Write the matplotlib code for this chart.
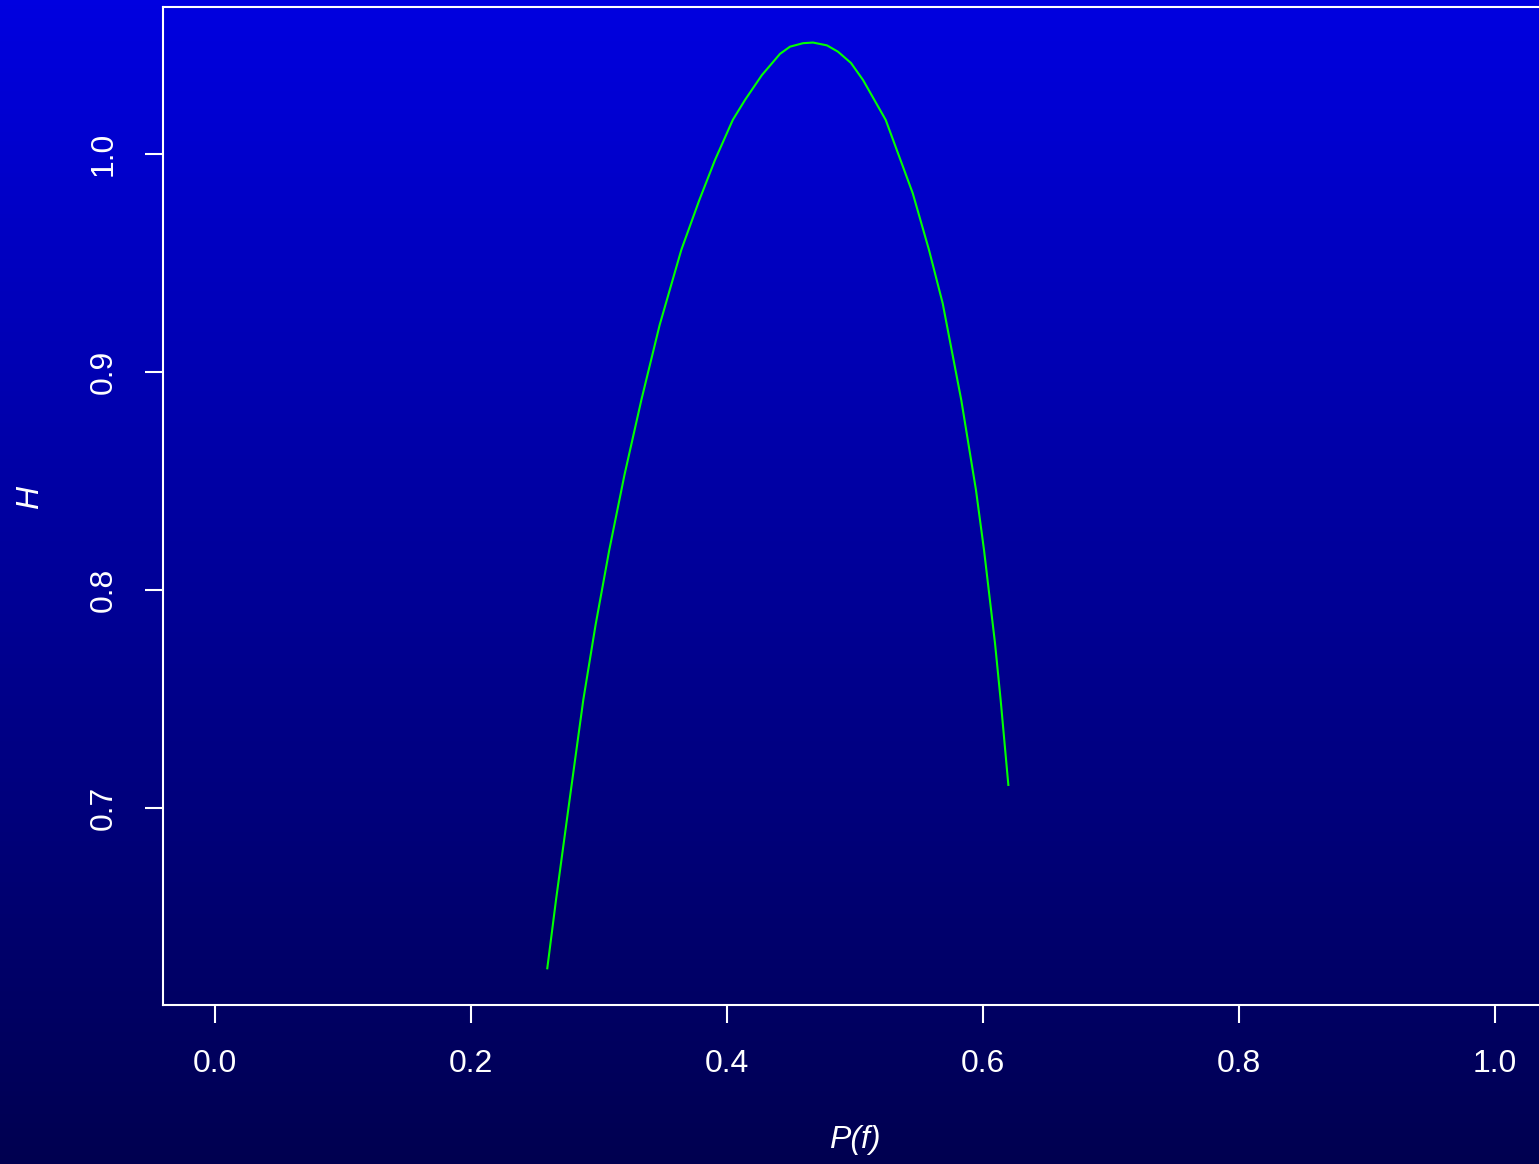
import numpy as np
import matplotlib
matplotlib.use("Agg")
import matplotlib.pyplot as plt

# values
pf = [0.2596, 0.2664, 0.2770, 0.2877, 0.2973, 0.3080, 0.3199, 0.3331, 0.3474,
      0.3643, 0.3784, 0.3906, 0.4045, 0.4141, 0.4273, 0.4414, 0.4492, 0.4594,
      0.4672, 0.4781, 0.4867, 0.4969, 0.5063, 0.5240, 0.5451, 0.5578, 0.5685,
      0.5830, 0.5945, 0.6008, 0.6094, 0.6138, 0.6198]
h = [0.6265, 0.6578, 0.7037, 0.7495, 0.7839, 0.8183, 0.8528, 0.8872, 0.9216,
     0.9560, 0.9789, 0.9972, 1.0156, 1.0248, 1.0362, 1.0459, 1.0492, 1.0508,
     1.0511, 1.0498, 1.0469, 1.0417, 1.0339, 1.0156, 0.9820, 0.9560, 0.9315,
     0.8872, 0.8459, 0.8183, 0.7755, 0.7495, 0.7106]
x_ticks = [0.0, 0.2, 0.4, 0.6, 0.8, 1.0]
y_ticks = [0.7, 0.8, 0.9, 1.0]

W, H = 1539, 1164
fig = plt.figure(figsize=(W / 100, H / 100), dpi=100)

# blue gradient background over the whole figure
bg = fig.add_axes([0, 0, 1, 1], zorder=-10)
grad = np.linspace(0, 1, 256).reshape(-1, 1)
top = np.array([0, 0, 224]) / 255
bottom = np.array([0, 0, 80]) / 255
img = top[None, None, :] * (1 - grad[:, :, None]) + bottom[None, None, :] * grad[:, :, None]
bg.imshow(img, aspect="auto", extent=[0, 1, 0, 1])
bg.axis("off")

font = "Liberation Sans"
left, right, ytop, ybot = 163, 1547, 7, 1004.5
ax = fig.add_axes([left / W, (H - ybot) / H, (right - left) / W, (ybot - ytop) / H])
ax.set_facecolor("none")
ax.plot(pf, h, color="#00ff00", lw=1.5)

ax.set_xlim(-0.040625, 1.040625)
ax.set_ylim(0.6099, 1.0674)
ax.set_xticks(x_ticks)
ax.set_yticks(y_ticks)
ax.set_xticklabels([f"{v:.1f}" for v in x_ticks], fontfamily=font)
ax.set_yticklabels([f"{v:.1f}" for v in y_ticks], fontfamily=font, rotation=90, va="center")
ax.tick_params(colors="white", labelsize=23, length=13, width=1.5, pad=19)

for s in ["left", "top", "bottom"]:
    ax.spines[s].set_color("white")
    ax.spines[s].set_linewidth(1.5)
ax.spines["right"].set_visible(False)

fig.text(855 / W, 1 - 1140 / H, "P(f)", color="white", fontsize=23, style="italic",
         fontfamily=font, ha="center", va="center")
fig.text(30 / W, 1 - 497 / H, "H", color="white", fontsize=23, style="italic",
         fontfamily=font, ha="center", va="center", rotation=90)

fig.savefig("out.png", dpi=100)
